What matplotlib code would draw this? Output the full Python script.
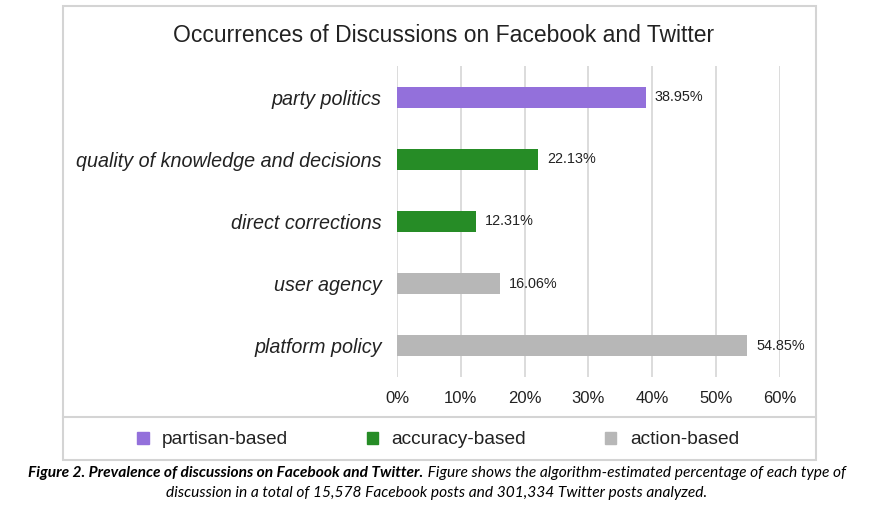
import matplotlib
matplotlib.use('Agg')
import matplotlib.pyplot as plt
from matplotlib.patches import Patch, Rectangle
from matplotlib.lines import Line2D
from matplotlib.ticker import FuncFormatter

# data
categories = ['party politics', 'quality of knowledge and decisions',
              'direct corrections', 'user agency', 'platform policy']
values = [38.95, 22.13, 12.31, 16.06, 54.85]
groups = ['partisan-based', 'accuracy-based', 'accuracy-based',
          'action-based', 'action-based']
group_names = ['partisan-based', 'accuracy-based', 'action-based']
group_colors = {'partisan-based': '#9370db',
                'accuracy-based': '#268c26',
                'action-based': '#b7b7b7'}
xticks = [0, 10, 20, 30, 40, 50, 60]

W, H = 887, 524
plt.rcParams['font.family'] = ['Liberation Sans', 'DejaVu Sans']
fig = plt.figure(figsize=(W / 100, H / 100), dpi=100)

def px(x, y):
    # pixel coords (from top-left) -> figure fraction
    return x / W, 1 - y / H

# axes placed to match the reference
x0, y0 = px(397, 377)
x1, y1 = px(780, 66)
ax = fig.add_axes([x0, y0, x1 - x0, y1 - y0])

ypos = list(range(len(categories)))
colors = [group_colors[g] for g in groups]
ax.barh(ypos, values, height=0.34, color=colors, zorder=3)
for y, v in zip(ypos, values):
    ax.text(v + 1.4, y, f'{v:.2f}%', va='center', ha='left',
            fontsize=10.4, color='#222222')

ax.set_xlim(0, 60)
ax.set_ylim(4.5, -0.5)
ax.set_xticks(xticks)
ax.xaxis.set_major_formatter(FuncFormatter(lambda v, p: f'{v:.0f}%'))
ax.set_yticks(ypos)
ax.set_yticklabels(categories, fontsize=14.2, style='italic', color='#222222')
ax.tick_params(axis='y', length=0, pad=11)
ax.tick_params(axis='x', length=0, pad=10, labelsize=12, colors='#222222')
ax.grid(axis='x', color='#d6d6d6', lw=1.2, zorder=0)
for s in ax.spines.values():
    s.set_visible(False)

fig.text(0.5, 1 - 35 / H, 'Occurrences of Discussions on Facebook and Twitter',
         ha='center', va='center', fontsize=16.5, color='#222222')

# outer chart frame and legend box
frame_kw = dict(transform=fig.transFigure, fill=False, ec='#d4d4d4', lw=1.5)
fx0, fy0 = px(63, 460)
fx1, fy1 = px(816, 6)
fig.patches.append(Rectangle((fx0, fy0), fx1 - fx0, fy1 - fy0, **frame_kw))
sx0, sy = px(63, 417)
fig.lines.append(Line2D([fx0, fx1], [sy, sy], transform=fig.transFigure,
                        color='#d4d4d4', lw=1.5))

handles = [Patch(color=group_colors[g], label=g) for g in group_names]
fig.legend(handles=handles, loc='center', bbox_to_anchor=px(438, 440),
           ncol=3, frameon=False, fontsize=13.8, handlelength=0.6,
           handleheight=0.6, handletextpad=0.7, columnspacing=4.1,
           labelcolor='#222222')

# caption
cap_font = ['Liberation Sans Narrow', 'Lato', 'DejaVu Sans']
cap_size = 11.2
bold_part = 'Figure 2. Prevalence of discussions on Facebook and Twitter.'
rest_part = (' Figure shows the algorithm-estimated percentage of each type of')
line2 = ('discussion in a total of 15,578 Facebook posts and '
         '301,334 Twitter posts analyzed.')
r = fig.canvas.get_renderer()
t1 = fig.text(0, px(0, 473)[1], bold_part, fontsize=cap_size, family=cap_font,
              weight='bold', style='italic', va='center', ha='left')
t2 = fig.text(0, px(0, 473)[1], rest_part, fontsize=cap_size, family=cap_font,
              style='italic', va='center', ha='left')
w1 = t1.get_window_extent(r).width
w2 = t2.get_window_extent(r).width
start = 437 - (w1 + w2) / 2
t1.set_x(start / W)
t2.set_x((start + w1) / W)
fig.text(437 / W, px(0, 493)[1], line2, fontsize=cap_size, family=cap_font,
         style='italic', va='center', ha='center')

fig.savefig('out.png', dpi=100)
